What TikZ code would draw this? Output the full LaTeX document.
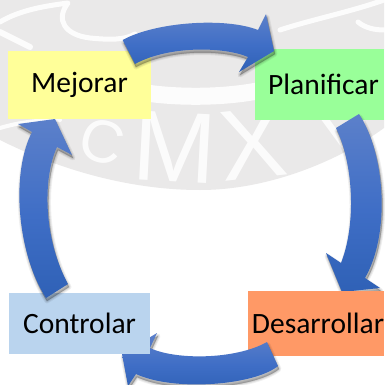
\documentclass[tikz,border=0pt]{standalone}
\usepackage{fontspec}
\setmainfont{Carlito}
\newfontfamily\wmfont{Liberation Sans}
\definecolor{wmgray}{HTML}{EAE9E9}
\definecolor{arrowtop}{HTML}{5C80CA}
\definecolor{arrowmid}{HTML}{3F6EC6}
\definecolor{arrowbot}{HTML}{2F61B6}
\definecolor{planfill}{HTML}{99FF99}
\definecolor{desfill}{HTML}{FF9966}
\definecolor{confill}{HTML}{BAD4EE}
\definecolor{mejfill}{HTML}{FFFF99}
\pgfdeclareverticalshading{arrowshade}{100bp}{color(0bp)=(arrowbot); color(25bp)=(arrowbot); color(48bp)=(arrowmid); color(75bp)=(arrowtop); color(100bp)=(arrowtop)}
\tikzset{
  x=1pt,y=-1pt,
  boxnode/.style={inner sep=0pt,font=\fontsize{29.5}{32}\selectfont,text=black},
  wmletter/.style={text=white,opacity=.85,font=\wmfont\fontsize{100}{102}\selectfont,inner sep=0pt},
  wmstroke/.style={draw=white,line cap=round,line join=round,opacity=.9},
}
\newcommand{\blockarrow}[1]{%
  \foreach \w/\o in {5/.06,3/.08,1/.12}{
    \fill[black,opacity=\o,draw=black,line width=\w pt,line join=round,shift={(1,3)}] #1;
  }
  \shade[shading=arrowshade] #1;
}
\newcommand{\topshape}{(122.7,40) .. controls (155,22) and (225,17) .. (258,30) -- (266,14) -- (274,51) -- (239,72) -- (248,57) .. controls (225,47) and (170,45) .. (135,64) -- cycle}
\newcommand{\rightshape}{(359,114) .. controls (386,155) and (390,235) .. (365,278) -- (380,288) -- (342,292) -- (326,253) -- (341,263) .. controls (356,225) and (354,165) .. (336,128) -- cycle}
\newcommand{\bottomshape}{(278,366) .. controls (255,385) and (175,392) .. (136,374) -- (128,386) -- (122,354) -- (157,333) -- (150,348) .. controls (175,360) and (235,360) .. (267,342) -- cycle}
\newcommand{\leftshape}{(46,298) .. controls (18,255) and (10,175) .. (32,132) -- (18,124) -- (55,119) -- (72,155) -- (57,147) .. controls (42,180) and (44,240) .. (68,284) -- cycle}
\begin{document}
\begin{tikzpicture}
\useasboundingbox (0,0) rectangle (384,385);
\fill[white] (0,0) rectangle (384,385);
% watermark
\fill[wmgray] (0,0) -- (384,0) -- (384,128) .. controls (340,160) and (270,190) .. (200,190) .. controls (130,190) and (60,170) .. (0,140) -- cycle;
\draw[wmstroke,line width=5pt] (0,22) .. controls (20,10) and (45,6) .. (68,3) .. controls (55,20) and (65,35) .. (90,38) .. controls (110,40) and (125,40) .. (135,34);
\draw[wmstroke,line width=6pt] (0,32) -- (30,47);
\draw[wmstroke,line width=5pt] (280,30) .. controls (310,20) and (350,12) .. (384,0);
\draw[wmstroke,line width=5pt] (358,22) .. controls (365,28) and (375,30) .. (384,30);
\draw[wmstroke,line width=17pt] (140,92) .. controls (175,98) and (225,98) .. (262,90);
\draw[wmstroke,line width=4pt] (0,128) .. controls (20,122) and (40,120) .. (60,120);
\node[wmletter,rotate=-16,font=\wmfont\fontsize{60}{62}\selectfont] (wmc) at (102,142) {C};
\node[wmletter,rotate=-3] (wmm) at (175,147) {M};
\node[wmletter,rotate=6] (wmx) at (253,144) {X};
\node[wmletter,rotate=14,font=\wmfont\fontsize{76}{78}\selectfont] (wmv) at (350,136) {V};
% boxes and arrows, layered as in the reference
\node[boxnode,fill=planfill,minimum width=129pt,minimum height=71pt] (plan) at (319.5,84.5) {\hspace{8pt}Planificar};
\blockarrow{\rightshape}
\node[boxnode,fill=desfill,minimum width=136pt,minimum height=65pt] (des) at (316,323.5) {\hspace{4pt}Desarrollar};
\blockarrow{\bottomshape}
\node[boxnode,fill=confill,minimum width=141pt,minimum height=61pt] (con) at (79.5,323.5) {Controlar};
\blockarrow{\leftshape}
\node[boxnode,fill=mejfill,minimum width=143pt,minimum height=68pt] (mej) at (79.5,85) {Mejorar};
\blockarrow{\topshape}
\end{tikzpicture}
\end{document}
